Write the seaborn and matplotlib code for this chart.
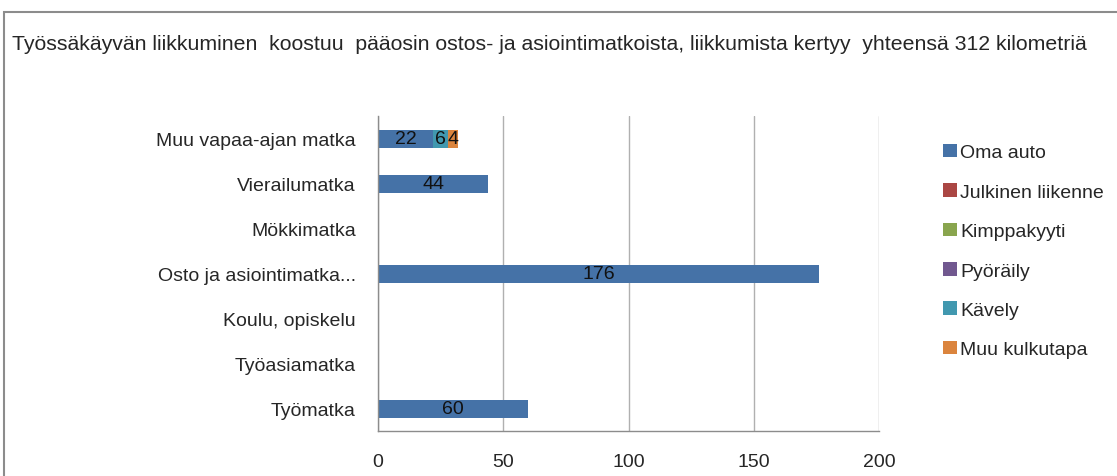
import numpy as np
import pandas as pd
import matplotlib
matplotlib.use("Agg")
import matplotlib.pyplot as plt
from matplotlib.patches import Rectangle, Patch
import seaborn as sns

sns.set_theme(style="white")
plt.rcParams['font.family'] = ['Liberation Sans Narrow', 'Liberation Sans', 'DejaVu Sans']

# datos
matkat = ["Muu vapaa-ajan matka", "Vierailumatka", "Mökkimatka",
          "Osto ja asiointimatka...", "Koulu, opiskelu", "Työasiamatka", "Työmatka"]
oma_auto = [22, 44, 0, 176, 0, 0, 60]
julkinen = [0, 0, 0, 0, 0, 0, 0]
kimppa = [0, 0, 0, 0, 0, 0, 0]
pyoraily = [0, 0, 0, 0, 0, 0, 0]
kavely = [6, 0, 0, 0, 0, 0, 0]
muu = [4, 0, 0, 0, 0, 0, 0]
sarjat = ["Oma auto", "Julkinen liikenne", "Kimppakyyti", "Pyöräily", "Kävely", "Muu kulkutapa"]
colores = ["#4572A7", "#AA4643", "#89A54E", "#71588F", "#4198AF", "#DB843D"]
xticks = [0, 50, 100, 150, 200]
otsikko = "Työssäkäyvän liikkuminen  koostuu  pääosin ostos- ja asiointimatkoista, liikkumista kertyy  yhteensä 312 kilometriä"

df = pd.DataFrame({"Matka": matkat, "Oma auto": oma_auto, "Julkinen liikenne": julkinen,
                   "Kimppakyyti": kimppa, "Pyöräily": pyoraily, "Kävely": kavely,
                   "Muu kulkutapa": muu})

fig = plt.figure(figsize=(11.17, 4.77), dpi=100)
ax = fig.add_axes([0.3384, 0.0943, 0.4487, 0.6604])

# marco del gráfico
fig.patches.append(Rectangle((4 / 1117, -0.05), 1.2, (477 - 13) / 477 + 0.05,
                             transform=fig.transFigure, fill=False,
                             edgecolor="#8c8c8c", linewidth=1.5))

izq = np.zeros(len(df))
for serie, col in zip(sarjat, colores):
    vals = df[serie].to_numpy(dtype=float)
    sns.barplot(x=vals, y=df["Matka"], orient="y", color=col, width=0.4,
                left=izq, ax=ax, linewidth=0, saturation=1)
    for i, v in enumerate(vals):
        if v > 0:
            ax.text(izq[i] + v / 2, i, f"{v:.0f}", ha="center", va="center",
                    fontsize=14, color="#111111")
    izq = izq + vals

ax.set_xlim(0, 200)
ax.set_ylim(len(df) - 0.5, -0.5)
ax.set_xticks(xticks)
ax.set_xticklabels([str(t) for t in xticks], fontsize=14)
ax.tick_params(axis="y", which="major", length=0, pad=16, labelsize=14)
ax.set_yticks(np.arange(-0.5, len(df)), minor=True)
ax.tick_params(axis="y", which="minor", length=6, color="#8c8c8c", direction="out")
ax.tick_params(axis="x", which="major", length=6, color="#8c8c8c", direction="out", pad=10)
ax.set_xlabel("")
ax.set_ylabel("")
ax.grid(axis="x", color="#b0b0b0", linewidth=1)
ax.set_axisbelow(True)
for s in ["top", "right"]:
    ax.spines[s].set_visible(False)
for s in ["left", "bottom"]:
    ax.spines[s].set_color("#8c8c8c")
    ax.spines[s].set_linewidth(1)

# leyenda
handles = [Patch(facecolor=c, edgecolor="none") for c in colores]
fig.legend(handles, sarjat, loc="upper left", bbox_to_anchor=(0.829, 0.733),
           frameon=False, fontsize=14, handlelength=0.7, handleheight=0.7,
           handletextpad=0.15, labelspacing=1.12)

fig.text(12 / 1117, 1 - 45 / 477, otsikko, ha="left", va="center", fontsize=15.3)

fig.savefig("out.png", dpi=100)
